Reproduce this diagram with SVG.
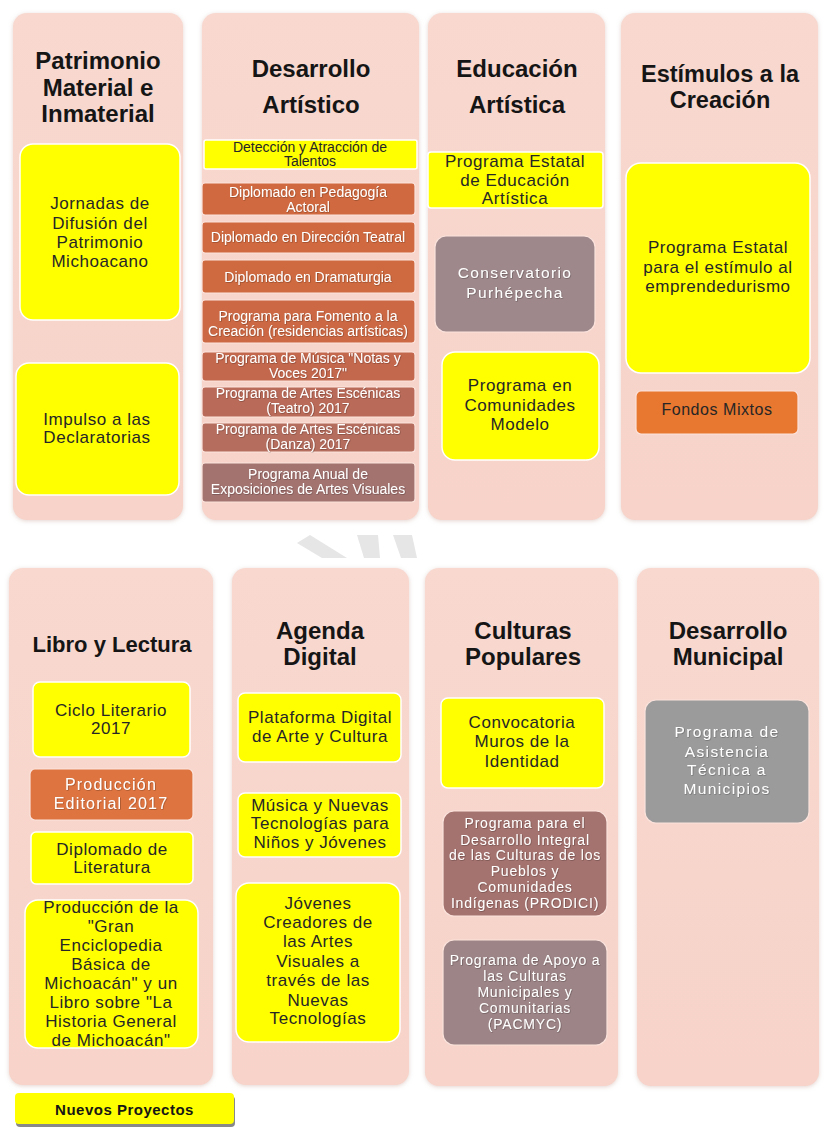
<svg xmlns="http://www.w3.org/2000/svg" width="825" height="1132" viewBox="0 0 825 1132">
<defs>
<filter id="sh" x="-10%" y="-10%" width="120%" height="120%"><feDropShadow dx="0" dy="1" stdDeviation="2" flood-color="#c9a89f" flood-opacity="0.5"/></filter>
<filter id="ts" x="-5%" y="-20%" width="110%" height="140%"><feDropShadow dx="0.6" dy="0.6" stdDeviation="0.5" flood-color="#000" flood-opacity="0.35"/></filter>
<linearGradient id="colg" x1="0" y1="0" x2="0" y2="1"><stop offset="0" stop-color="#F8D8CF"/><stop offset="1" stop-color="#F7D3C9"/></linearGradient>
</defs>
<style>
.col{fill:url(#colg);filter:url(#sh)}
.t{font-family:"Liberation Sans",Arial,sans-serif;font-weight:bold;font-size:24px;fill:#151515;text-anchor:middle}
.yb{fill:#FFFF00;stroke:#FFFFFF;stroke-width:1.5}
.y{font-family:"Liberation Sans",Arial,sans-serif;font-size:17px;letter-spacing:0.55px;fill:#262626;text-anchor:middle}
.d{font-family:"Liberation Sans",Arial,sans-serif;font-size:14px;fill:#262626;text-anchor:middle}
.w{font-family:"Liberation Sans",Arial,sans-serif;font-size:14px;fill:#FFFFFF;text-anchor:middle;filter:url(#ts)}
.wm{font-family:"Liberation Sans",Arial,sans-serif;font-size:14px;letter-spacing:0.8px;fill:#FFFFFF;text-anchor:middle;filter:url(#ts)}
.wg{font-family:"Liberation Sans",Arial,sans-serif;font-size:15.5px;letter-spacing:1.4px;fill:#FFFFFF;text-anchor:middle;filter:url(#ts)}
.ob{stroke:#FBE3DC;stroke-width:1.2}
</style>

<!-- watermark fragments -->
<g id="watermark" fill="#E6E6E6">
<polygon points="297,543 310,535 347,558 322,558"/>
<polygon points="357,535 378,535 380,558 364,558"/>
<polygon points="393,535 412,535 417,558 401,558"/>
</g>

<g id="connectors"></g>

<!-- Column 1 -->
<g id="col-patrimonio">
<rect class="col" x="13" y="13" width="170" height="507" rx="14"/>
<text class="t" x="98" y="69">Patrimonio</text>
<text class="t" x="98" y="96">Material e</text>
<text class="t" x="98" y="122">Inmaterial</text>
</g>
<g id="n-jornadas">
<rect class="yb" x="20" y="144" width="160" height="176" rx="13"/>
<text class="y" x="100" y="209">Jornadas de</text>
<text class="y" x="100" y="229">Difusión del</text>
<text class="y" x="100" y="248">Patrimonio</text>
<text class="y" x="100" y="267">Michoacano</text>
</g>
<g id="n-impulso">
<rect class="yb" x="16" y="363" width="163" height="132" rx="13"/>
<text class="y" x="97" y="425">Impulso a las</text>
<text class="y" x="97" y="443">Declaratorias</text>
</g>

<!-- Column 2 -->
<g id="col-desarrollo-artistico">
<rect class="col" x="202" y="13" width="217" height="507" rx="14"/>
<text class="t" x="311" y="77">Desarrollo</text>
<text class="t" x="311" y="113">Artístico</text>
</g>
<g id="n-deteccion">
<rect class="yb" x="204" y="140" width="213" height="29" rx="2"/>
<text class="d" x="310" y="152">Detección y Atracción de</text>
<text class="d" x="310" y="166">Talentos</text>
</g>
<g id="n-pedagogia">
<rect class="ob" x="202" y="183" width="213" height="32" rx="3" fill="#D0693F"/>
<text class="w" x="308" y="197">Diplomado en Pedagogía</text>
<text class="w" x="308" y="212">Actoral</text>
</g>
<g id="n-direccion">
<rect class="ob" x="202" y="222" width="213" height="31" rx="3" fill="#D0693F"/>
<text class="w" x="308" y="242">Diplomado en Dirección Teatral</text>
</g>
<g id="n-dramaturgia">
<rect class="ob" x="202" y="260" width="213" height="33" rx="3" fill="#CF6A40"/>
<text class="w" x="308" y="282">Diplomado en Dramaturgia</text>
</g>
<g id="n-fomento">
<rect class="ob" x="202" y="300" width="213" height="43" rx="3" fill="#CC6944"/>
<text class="w" x="308" y="321">Programa para Fomento a la</text>
<text class="w" x="308" y="336">Creación (residencias artísticas)</text>
</g>
<g id="n-musica">
<rect class="ob" x="202" y="352" width="213" height="29" rx="3" fill="#C3674D"/>
<text class="w" x="308" y="363">Programa de Música "Notas y</text>
<text class="w" x="308" y="378">Voces 2017"</text>
</g>
<g id="n-teatro">
<rect class="ob" x="202" y="387" width="213" height="30" rx="3" fill="#BA6A58"/>
<text class="w" x="308" y="398">Programa de Artes Escénicas</text>
<text class="w" x="308" y="413">(Teatro) 2017</text>
</g>
<g id="n-danza">
<rect class="ob" x="202" y="423" width="213" height="29" rx="3" fill="#B56D5E"/>
<text class="w" x="308" y="434">Programa de Artes Escénicas</text>
<text class="w" x="308" y="449">(Danza) 2017</text>
</g>
<g id="n-exposiciones">
<rect class="ob" x="202" y="463" width="213" height="39" rx="3" fill="#A37370"/>
<text class="w" x="308" y="479">Programa Anual de</text>
<text class="w" x="308" y="494">Exposiciones de Artes Visuales</text>
</g>

<!-- Column 3 -->
<g id="col-educacion">
<rect class="col" x="428" y="13" width="177" height="507" rx="14"/>
<text class="t" x="517" y="77">Educación</text>
<text class="t" x="517" y="113">Artística</text>
</g>
<g id="n-programa-estatal-edu">
<rect class="yb" x="428" y="152" width="175" height="56" rx="3"/>
<text class="y" x="515" y="167">Programa Estatal</text>
<text class="y" x="515" y="186">de Educación</text>
<text class="y" x="515" y="204">Artística</text>
</g>
<g id="n-conservatorio">
<rect class="ob" x="435" y="236" width="160" height="96" rx="11" fill="#9E888B"/>
<text class="wg" x="515" y="278">Conservatorio</text>
<text class="wg" x="515" y="298">Purhépecha</text>
</g>
<g id="n-comunidades">
<rect class="yb" x="442" y="352" width="157" height="108" rx="13"/>
<text class="y" x="520" y="391">Programa en</text>
<text class="y" x="520" y="411">Comunidades</text>
<text class="y" x="520" y="430">Modelo</text>
</g>

<!-- Column 4 -->
<g id="col-estimulos">
<rect class="col" x="621" y="13" width="197" height="507" rx="14"/>
<text class="t" x="720" y="82" style="font-size:23.5px">Estímulos a la</text>
<text class="t" x="720" y="108" style="font-size:23.5px">Creación</text>
</g>
<g id="n-emprendedurismo">
<rect class="yb" x="626" y="163" width="184" height="210" rx="15"/>
<text class="y" x="718" y="253">Programa Estatal</text>
<text class="y" x="718" y="273">para el estímulo al</text>
<text class="y" x="718" y="292">emprendedurismo</text>
</g>
<g id="n-fondos">
<rect x="636" y="391" width="162" height="43" rx="5" fill="#E8772F" stroke="#FBE3DC" stroke-width="1.2"/>
<text class="y" x="717" y="415" style="font-size:16px">Fondos Mixtos</text>
</g>

<!-- Column 5 -->
<g id="col-libro">
<rect class="col" x="9" y="568" width="204" height="517" rx="14"/>
<text class="t" x="112" y="652" style="font-size:22px">Libro y Lectura</text>
</g>
<g id="n-ciclo">
<rect class="yb" x="33" y="682" width="157" height="75" rx="7"/>
<text class="y" x="111" y="716">Ciclo Literario</text>
<text class="y" x="111" y="734">2017</text>
</g>
<g id="n-produccion-editorial">
<rect class="ob" x="30" y="769" width="163" height="51" rx="5" fill="#DE7440"/>
<text class="wg" x="111" y="790" style="font-size:16px;letter-spacing:1.2px">Producción</text>
<text class="wg" x="111" y="809" style="font-size:16px;letter-spacing:1.2px">Editorial 2017</text>
</g>
<g id="n-diplomado-literatura">
<rect class="yb" x="31" y="832" width="162" height="52" rx="5"/>
<text class="y" x="112" y="855">Diplomado de</text>
<text class="y" x="112" y="873">Literatura</text>
</g>
<g id="n-enciclopedia">
<rect class="yb" x="25" y="900" width="173" height="148" rx="13"/>
<text class="y" x="111" y="913">Producción de la</text>
<text class="y" x="111" y="932">"Gran</text>
<text class="y" x="111" y="951">Enciclopedia</text>
<text class="y" x="111" y="970">Básica de</text>
<text class="y" x="111" y="989">Michoacán" y un</text>
<text class="y" x="111" y="1008">Libro sobre "La</text>
<text class="y" x="111" y="1027">Historia General</text>
<text class="y" x="111" y="1046">de Michoacán"</text>
</g>

<!-- Column 6 -->
<g id="col-agenda">
<rect class="col" x="232" y="568" width="177" height="517" rx="14"/>
<text class="t" x="320" y="639">Agenda</text>
<text class="t" x="320" y="665">Digital</text>
</g>
<g id="n-plataforma">
<rect class="yb" x="238" y="693" width="163" height="69" rx="7"/>
<text class="y" x="320" y="723">Plataforma Digital</text>
<text class="y" x="320" y="742">de Arte y Cultura</text>
</g>
<g id="n-musica-tecnologias">
<rect class="yb" x="238" y="793" width="163" height="64" rx="7"/>
<text class="y" x="320" y="811">Música y Nuevas</text>
<text class="y" x="320" y="829">Tecnologías para</text>
<text class="y" x="320" y="848">Niños y Jóvenes</text>
</g>
<g id="n-jovenes-creadores">
<rect class="yb" x="236" y="883" width="164" height="159" rx="13"/>
<text class="y" x="318" y="909">Jóvenes</text>
<text class="y" x="318" y="928">Creadores de</text>
<text class="y" x="318" y="947">las Artes</text>
<text class="y" x="318" y="967">Visuales a</text>
<text class="y" x="318" y="986">través de las</text>
<text class="y" x="318" y="1006">Nuevas</text>
<text class="y" x="318" y="1024">Tecnologías</text>
</g>

<!-- Column 7 -->
<g id="col-culturas">
<rect class="col" x="425" y="568" width="193" height="518" rx="14"/>
<text class="t" x="523" y="639">Culturas</text>
<text class="t" x="523" y="665">Populares</text>
</g>
<g id="n-muros">
<rect class="yb" x="441" y="698" width="163" height="90" rx="7"/>
<text class="y" x="522" y="728">Convocatoria</text>
<text class="y" x="522" y="747">Muros de la</text>
<text class="y" x="522" y="767">Identidad</text>
</g>
<g id="n-prodici">
<rect class="ob" x="443" y="811" width="164" height="105" rx="11" fill="#A5736F"/>
<text class="wm" x="525" y="828">Programa para el</text>
<text class="wm" x="525" y="845">Desarrollo Integral</text>
<text class="wm" x="525" y="860">de las Culturas de los</text>
<text class="wm" x="525" y="876">Pueblos y</text>
<text class="wm" x="525" y="892">Comunidades</text>
<text class="wm" x="525" y="908">Indígenas (PRODICI)</text>
</g>
<g id="n-pacmyc">
<rect class="ob" x="443" y="940" width="164" height="105" rx="11" fill="#9D8486"/>
<text class="wm" x="525" y="965">Programa de Apoyo a</text>
<text class="wm" x="525" y="981">las Culturas</text>
<text class="wm" x="525" y="997">Municipales y</text>
<text class="wm" x="525" y="1013">Comunitarias</text>
<text class="wm" x="525" y="1029">(PACMYC)</text>
</g>

<!-- Column 8 -->
<g id="col-municipal">
<rect class="col" x="637" y="568" width="182" height="518" rx="14"/>
<text class="t" x="728" y="639">Desarrollo</text>
<text class="t" x="728" y="665">Municipal</text>
</g>
<g id="n-asistencia">
<rect class="ob" x="645" y="700" width="164" height="123" rx="11" fill="#9B9B9B"/>
<text class="wg" x="727" y="737">Programa de</text>
<text class="wg" x="727" y="757">Asistencia</text>
<text class="wg" x="727" y="775">Técnica a</text>
<text class="wg" x="727" y="794">Municipios</text>
</g>

<!-- Legend -->
<g id="legend">
<rect x="16" y="1096" width="219" height="31" rx="4" fill="#555555" opacity="0.7"/>
<rect x="15" y="1093" width="219" height="31" rx="4" fill="#FFFF00"/>
<text x="124.5" y="1115" style="font-family:'Liberation Sans',Arial,sans-serif;font-weight:bold;font-size:15px;letter-spacing:0.5px;fill:#151515;text-anchor:middle">Nuevos Proyectos</text>
</g>
</svg>
